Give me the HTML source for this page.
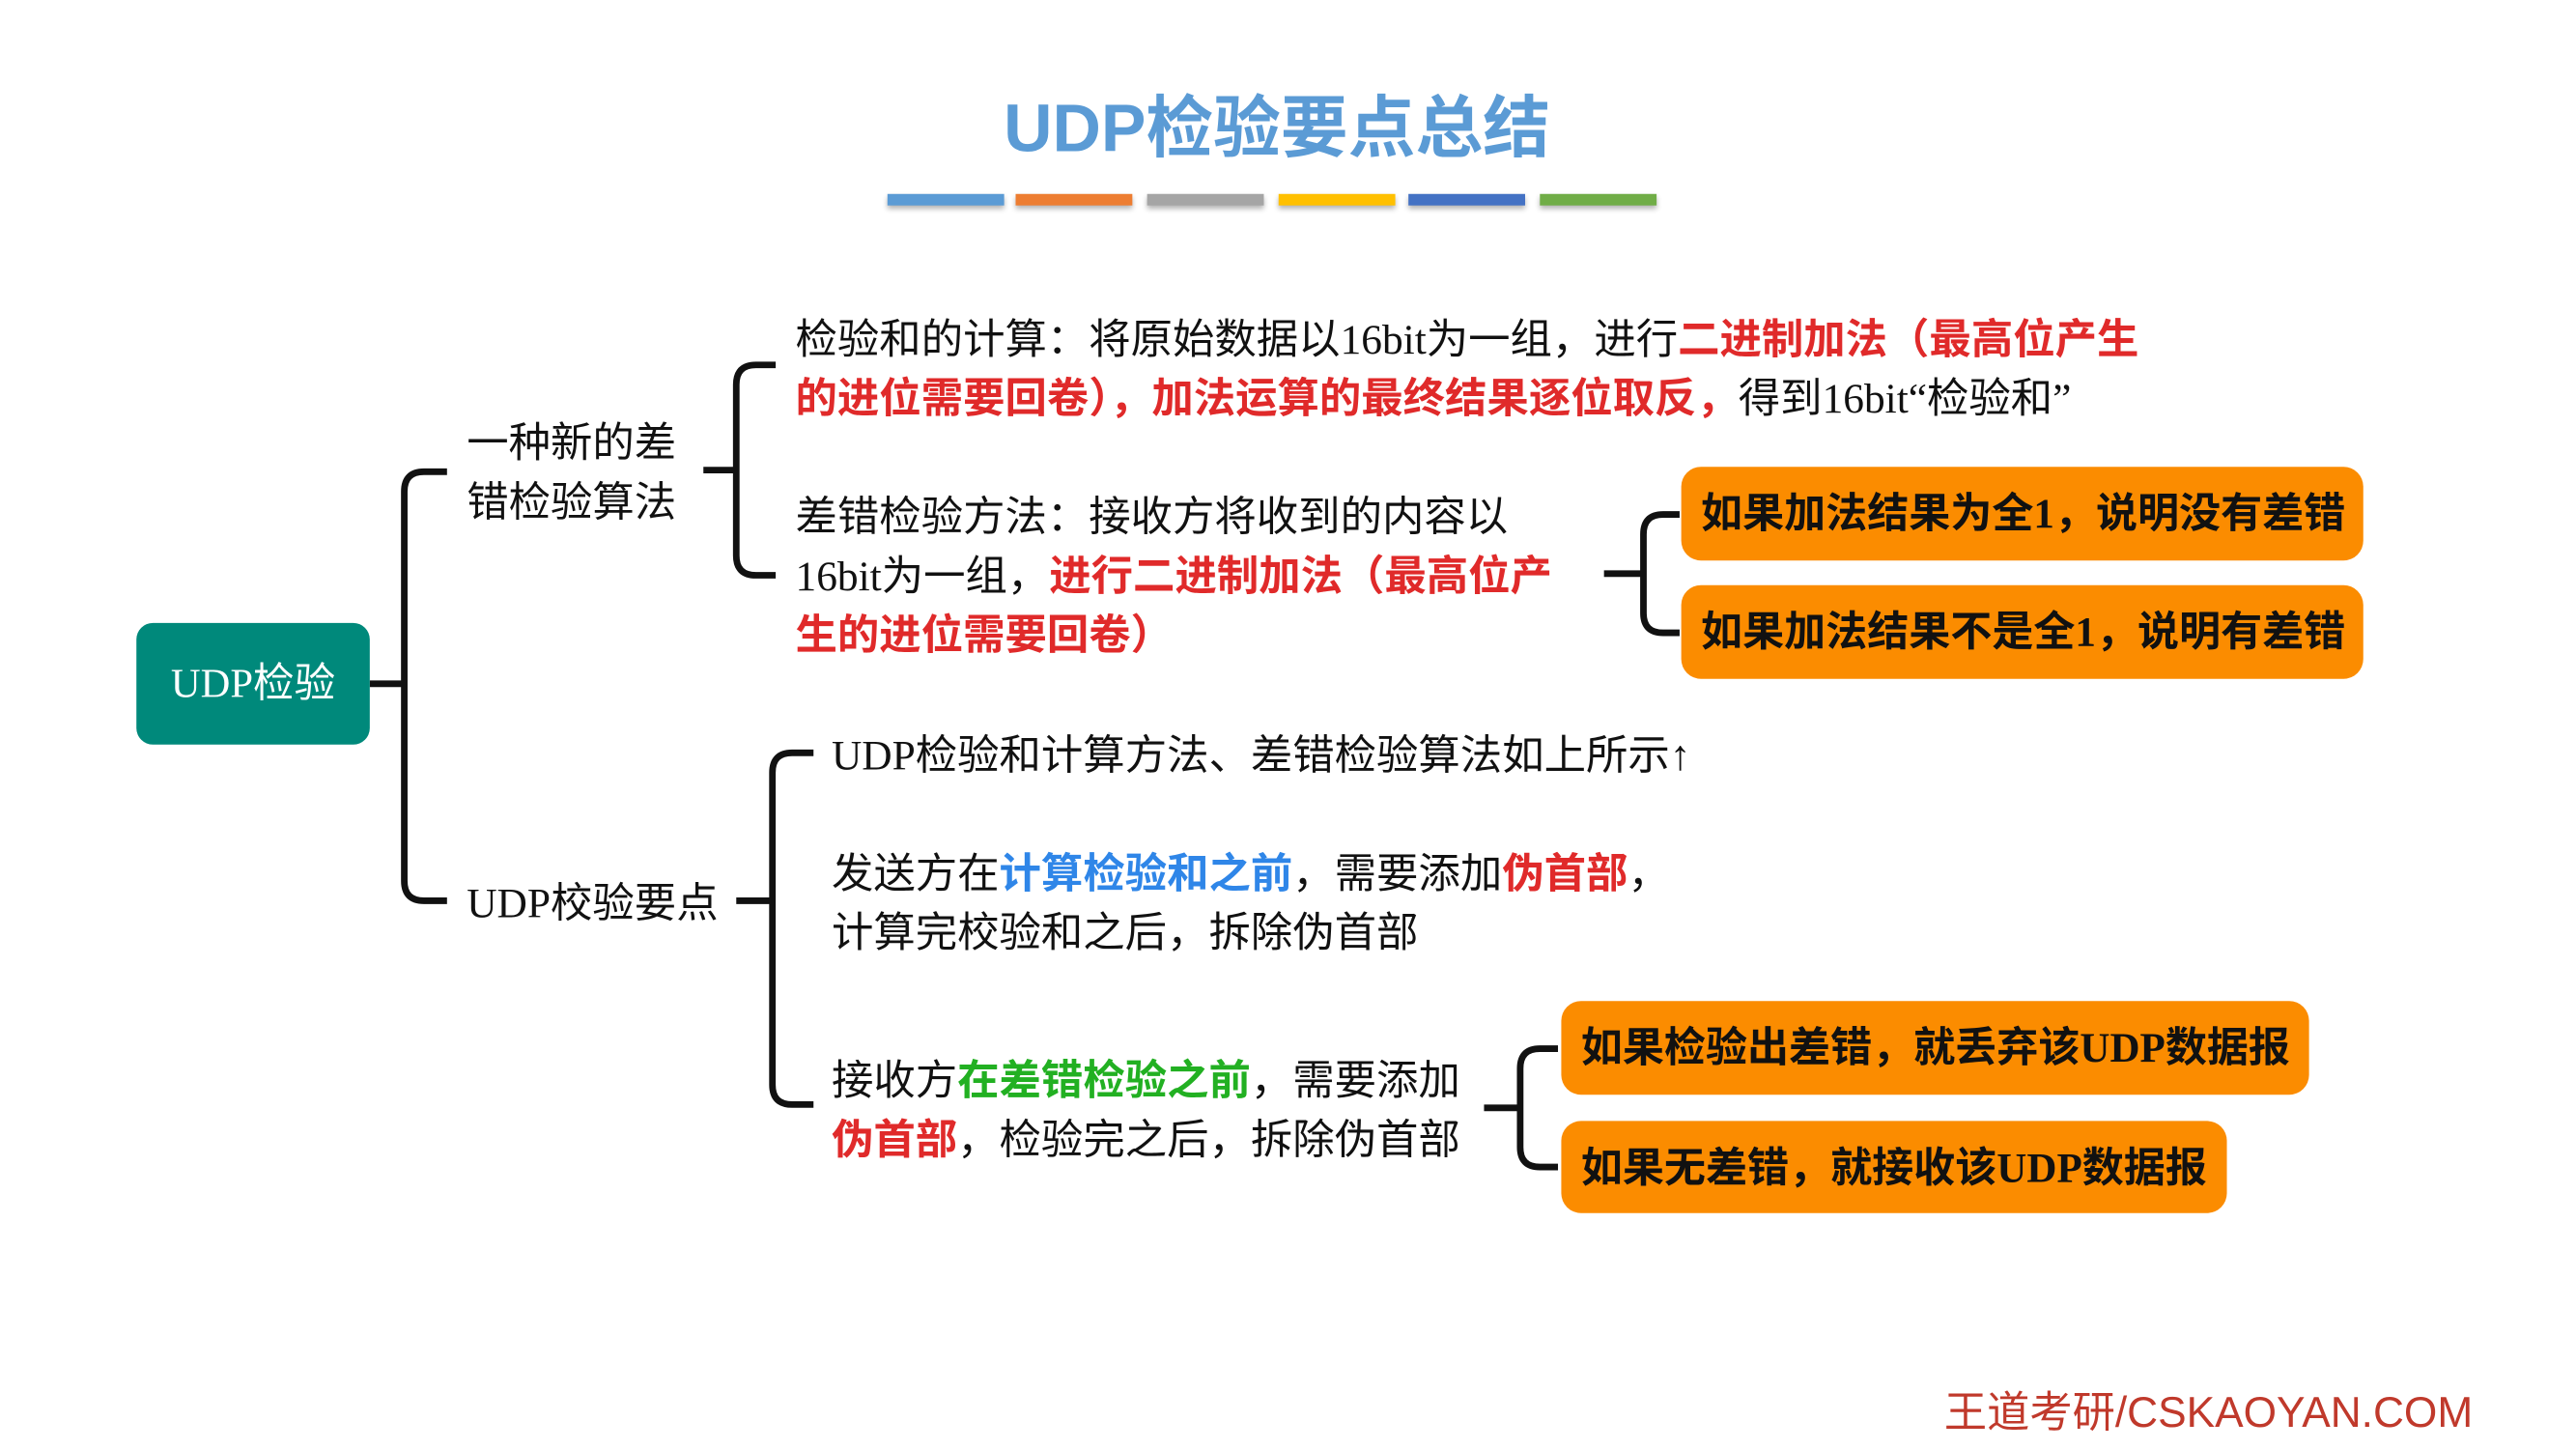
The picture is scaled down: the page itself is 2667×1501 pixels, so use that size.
<!DOCTYPE html>
<html><head><meta charset="utf-8">
<style>
html,body{margin:0;padding:0;background:#fff;width:2667px;height:1500px;overflow:hidden}
#w{position:absolute;left:0;top:0;width:1568px;height:882px;transform:scale(1.7015);transform-origin:0 0;
font-family:"Liberation Serif","Noto Sans CJK SC",sans-serif;color:#111}
.t{position:absolute;font-size:25.5px;line-height:36px;white-space:nowrap}
.r{color:#e02a2a;font-weight:bold}
.b{color:#2f86e8;font-weight:bold}
.g{color:#22b022;font-weight:bold}
.ob{position:absolute;background:#fb8c00;border-radius:12px;font-weight:bold;font-size:25.3px;color:#111;box-sizing:border-box;padding-left:12px;white-space:nowrap;font-family:"Liberation Serif","Noto Sans CJK SC",sans-serif}
.bar{position:absolute;top:118px;height:7px;width:71px;box-shadow:0 2px 3px rgba(0,0,0,.3)}
</style></head><body>
<div id="w">
<div style="position:absolute;left:0;width:1554px;top:44px;text-align:center;font-family:'Liberation Sans','Noto Sans CJK SC',sans-serif;font-weight:bold;font-size:41px;color:#5b9bd5">UDP检验要点总结</div>
<div class="bar" style="left:540px;background:#5b9bd5"></div>
<div class="bar" style="left:618px;background:#ed7d31"></div>
<div class="bar" style="left:698px;background:#a5a5a5"></div>
<div class="bar" style="left:778px;background:#ffc000"></div>
<div class="bar" style="left:857px;background:#4472c4"></div>
<div class="bar" style="left:937px;background:#70ad47"></div>

<svg width="1568" height="882" style="position:absolute;left:0;top:0" fill="none" stroke="#111" stroke-width="4">
<path d="M225 416H246M272 287H258Q246 287 246 299V536Q246 548 258 548H272"/>
<path d="M428 286H448M472 222H460Q448 222 448 234V338Q448 350 460 350H472"/>
<path d="M976 349H1000M1022 313H1012Q1000 313 1000 325V373Q1000 385 1012 385H1022"/>
<path d="M448 548H470M495 458H482Q470 458 470 470V660Q470 672 482 672H495"/>
<path d="M903 674H925M948 638H937Q925 638 925 650V698Q925 710 937 710H948"/>
</svg>

<div style="position:absolute;left:83px;top:379px;width:142px;height:74px;background:#00897b;border-radius:10px;color:#fff;font-size:25px;line-height:76px;text-align:center">UDP检验</div>

<div class="t" style="left:284px;top:252px">一种新的差<br>错检验算法</div>
<div class="t" style="left:284px;top:532px">UDP校验要点</div>

<div class="t" style="left:484px;top:189px">检验和的计算：将原始数据以16bit为一组，进行<span class="r">二进制加法（最高位产生</span><br><span class="r">的进位需要回卷），加法运算的最终结果逐位取反，</span>得到16bit“检验和”</div>
<div class="t" style="left:484px;top:297px">差错检验方法：接收方将收到的内容以<br>16bit为一组，<span class="r">进行二进制加法（最高位产</span><br><span class="r">生的进位需要回卷）</span></div>

<div class="ob" style="left:1023px;top:284px;width:415px;height:57px;line-height:59px">如果加法结果为全1，说明没有差错</div>
<div class="ob" style="left:1023px;top:356px;width:415px;height:57px;line-height:59px">如果加法结果不是全1，说明有差错</div>

<div class="t" style="left:506px;top:442px">UDP检验和计算方法、差错检验算法如上所示↑</div>
<div class="t" style="left:506px;top:514px">发送方在<span class="b">计算检验和之前</span>，需要添加<span class="r">伪首部</span>，<br>计算完校验和之后，拆除伪首部</div>
<div class="t" style="left:506px;top:640px">接收方<span class="g">在差错检验之前</span>，需要添加<br><span class="r">伪首部</span>，检验完之后，拆除伪首部</div>

<div class="ob" style="left:950px;top:609px;width:455px;height:57px;line-height:59px">如果检验出差错，就丢弃该UDP数据报</div>
<div class="ob" style="left:950px;top:682px;width:405px;height:56px;line-height:58px">如果无差错，就接收该UDP数据报</div>

<div style="position:absolute;left:1183px;top:843px;font-family:'Liberation Sans','Noto Sans CJK SC',sans-serif;font-size:26px;line-height:32px;color:#c0392b;white-space:nowrap">王道考研/CSKAOYAN.COM</div>
</div>
</body></html>
